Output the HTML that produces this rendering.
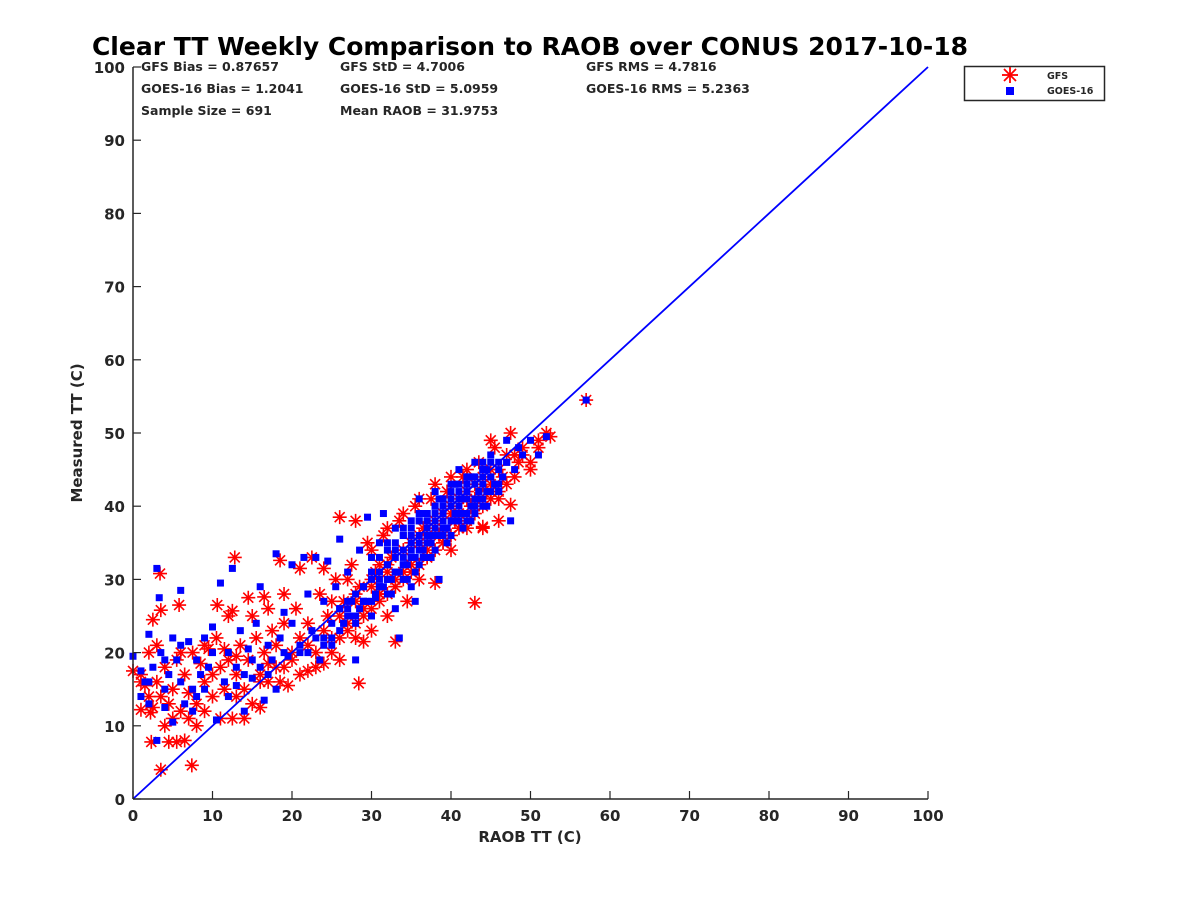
<!DOCTYPE html>
<html><head><meta charset="utf-8"><style>
body{margin:0;background:#fff;}
svg text{font-family:"DejaVu Sans","Liberation Sans",sans-serif;font-weight:bold;fill:#262626;}
</style></head><body>
<svg width="1200" height="900" viewBox="0 0 1200 900">
<text x="530" y="55" font-size="25" text-anchor="middle" style="fill:#000">Clear TT Weekly Comparison to RAOB over CONUS 2017-10-18</text>
<g id="stats">
<text x="141" y="71" font-size="12.5">GFS Bias = 0.87657</text>
<text x="340" y="71" font-size="12.5">GFS StD = 4.7006</text>
<text x="586" y="71" font-size="12.5">GFS RMS = 4.7816</text>
<text x="141" y="93" font-size="12.5">GOES-16 Bias = 1.2041</text>
<text x="340" y="93" font-size="12.5">GOES-16 StD = 5.0959</text>
<text x="586" y="93" font-size="12.5">GOES-16 RMS = 5.2363</text>
<text x="141" y="115" font-size="12.5">Sample Size = 691</text>
<text x="340" y="115" font-size="12.5">Mean RAOB = 31.9753</text>
</g>
<g id="plot"></g>
<g id="axes"></g>
<g>
<rect x="964.5" y="66.5" width="140" height="34" fill="#fff" stroke="#262626" stroke-width="1.5"/>
<g stroke="#f00" stroke-width="1.8">
<line x1="1002" y1="75" x2="1018" y2="75"/><line x1="1010" y1="67" x2="1010" y2="83"/><line x1="1004" y1="69" x2="1016" y2="81"/><line x1="1004" y1="81" x2="1016" y2="69"/></g>
<rect x="1006" y="87" width="8" height="8" fill="#00f"/>
<text x="1047" y="79" font-size="9.5">GFS</text>
<text x="1047" y="94" font-size="9.5">GOES-16</text>
</g>
</svg>
<script>
const xTicks=[0,10,20,30,40,50,60,70,80,90,100];
const yTicks=[0,10,20,30,40,50,60,70,80,90,100];
const gfsX=[3.4,3.5,2.5,5.8,10.6,12.8,12.5,14.5,16.5,18.5,21,26,28.4,3.5,7.4,2.3,4.5,5.5,6.5,43,57,47.5,44,1,0,2.2,
1,1.5,2,2.5,3,3.5,4,4.5,5,5.5,6,6.5,7,7.5,8,8.5,9,9.5,10,10.5,11,11.5,12,12.5,13,13.5,14,14.5,15,15.5,16,16.5,17,17.5,18,18.5,19,19.5,20,3,4,5,6,8,9,11,12,13,7,2,1,14,16,15,10,11.5,13,9,20.5,19,17,21,22,22,23,23.5,24,24.5,25,25.5,26,26.5,27,27.5,28,28.5,29,29.5,30,30.5,31,31.5,32,32.5,33,33,33.5,34,34.5,35,35.5,36,36.5,37,37.5,38,38.5,39,39.5,40,40.5,41,41.5,42,42.5,43,43.5,44,44.5,45,45.5,46,46.5,47,47.5,48,48.5,49,50,51,52,52.5,45,42,40,38,36,34,32,30,28,29,24,22.5,27,25,31,35,37,39,41,43,45,46,44,42,40,38,36,34,32,30,28,26,24,22,20,18,16,
27,29,31,33,35,37,39,41,43,45,47,28,30,32,34,36,38,40,42,44,46,48,29,31,33,35,37,39,41,43,45,26,28,30,32,34,36,38,40,42,44,46,49,50,51,25,23,21,19,17];
const gfsY=[30.8,25.8,24.5,26.5,26.5,33,25.7,27.5,27.6,32.6,31.5,38.5,15.8,4,4.6,7.8,7.8,7.8,8,26.8,54.5,40.2,37.2,12.2,17.5,11.8,
17,15.5,14,12.5,16,14,18,13,15,19,12,17,14.5,20,13,18.5,16,20.5,14,22,18,15,19,11,17,21,15,19,13,22,17,20,18.5,23,21,16,24,15.5,20,21,10,11,20,10,12,11,25,14,11,20,16,11,12.5,25,17,20.5,19.5,21,26,28,26,22,17.5,24,20,28,18.5,25,22,30,19,27,24,32,22,29,26,35,23,31,28,36,25,33,21.5,29,38,31,27,35,40,30,37,33,41,29.5,36,39,42,34,38,41,44,37,40,43,46,37,42,45,48,41,44,47,50,44,46,48,45,48,50,49.5,49,45,44,43,41,39,37,34,38,21.5,31.5,33,30,27,32,32,36,35,39,41,43,38,44,42,40,38,36,34,31,29,27,25,23,21,19,18,16,
23,25,27,29,31,33,35,37,39,41,43,28,30,32,34,35,37,39,41,43,45,47,26,28,30,32,34,36,38,40,42,22,24,26,28,30,32,34,36,38,40,42,47,46,49,20,18,17,18,16];
const goesX=[0,1,1.5,2,2.5,3,3.3,3.5,4,4.5,5,5.5,6,6.5,7,7.5,8,8.5,9,9.5,10,10.5,11,11.5,12,12.5,13,13.5,14,14.5,15,15.5,16,16.5,17,17.5,18,18.5,19,19.5,20,21,21.5,22,22.5,23,23.5,24,24.5,25,25.5,26,26.5,27,27.5,28,28.5,29,29.5,30,30.5,31,31.5,32,32.5,33,33.5,34,34.5,35,35.5,36,36.5,37,37.5,38,38.5,39,39.5,40,40.5,41,41.5,42,42.5,43,43.5,44,44.5,45,45.5,46,46.5,47,47.5,48,48.5,49,50,51,52,57,3,5,7.5,2,4,6,9,12,13,15,17,19,22,24,26,28,30,32,34,36,38,40,42,44,46,35,37,39,41,43,36,34,32,30,38,40,42,44,33,31,29,27,25,23,21,20,18,16,14,10,8,6,4,2,1,45,47,43,37,35,33,39,41,
31,33,35,37,39,41,43,45,34,36,38,40,42,44,32,34,36,38,40,42,44,46,33,35,37,39,41,43,35.5,37.5,39.5,41.5,43.5,36.5,38.5,40.5,42.5,44.5,
26,27,28,29,30,31,32,33,34,35,36,37,38,39,40,41,42,43,44,45,46,47,26.5,27.5,28.5,29.5,30.5,31.5,32.5,33.5,34.5,35.5,36.5,37.5,38.5,39.5,40.5,41.5,42.5,43.5,44.5,45.5,46.5,25,27,29,31,33,35,37,39,41,43,45,24,26,28,30,32,34,36,38,40,42,44,46,
30,32,34,36,38,40,42,31,33,35,37,39,41,29,31,33,35,37,39,41,43];
const goesY=[19.5,17.5,16,22.5,18,31.5,27.5,20,15,17,22,19,28.5,13,21.5,15,19,17,22,18,23.5,10.8,29.5,16,20,31.5,18,23,12,20.5,16.5,24,29,13.5,21,19,33.5,22,25.5,19.5,32,21,33,28,23,33,19,27,32.5,21,29,35.5,24,31,27,19,34,29,38.5,31,27.5,35,39,32,28,37,22,34,30,38,27,41,33,39,36,42,30,40,37,43,39,45,41,44,38,46,42,45,40,47,43,46,44,49,38,45,48,47,49,47,49.5,54.5,8,10.5,12,13,12.5,16,15,14,15.5,19,17,20,20,22,26,25,27,30,32,35,37,38,41,43,42,34,38,41,43,44,39,37,35,33,40,41,43,46,31,30,27,26,24,22,20,24,15,18,17,20,14,21,19,16,14,44,46,39,33,29,26,36,41,
33,35,37,39,41,42,44,46,36,38,40,42,44,45,30,32,34,36,38,39,41,43,34,36,38,40,40,41,31,33,35,37,42,39,41,43,44,45,
26,27,28,29,30,31,32,33,33,35,36,37,38,39,40,41,42,43,44,44,45,46,24,25,26,27,28,29,30,31,32,33,34,35,36,37,38,39,40,41,42,43,44,22,25,27,29,31,33,35,37,38,40,42,21,23,24,25,28,30,32,34,36,38,40,42,
33,34,36,38,39,41,43,29,31,33,36,38,39,27,29,31,33,35,37,38,40];
const NS='http://www.w3.org/2000/svg';
const X0=133,X1=928,Y0=799,Y1=67;
const sx=v=>X0+(v-xTicks[0])/(xTicks[xTicks.length-1]-xTicks[0])*(X1-X0);
const sy=v=>Y0-(v-yTicks[0])/(yTicks[yTicks.length-1]-yTicks[0])*(Y0-Y1);
function mk(t,a,p){const e=document.createElementNS(NS,t);for(const k in a)e.setAttribute(k,a[k]);p.appendChild(e);return e;}
const plot=document.getElementById('plot');
const gl=mk('g',{},plot);


const s=7;
for(let i=0;i<gfsX.length;i++){
  const cx=sx(gfsX[i]),cy=sy(gfsY[i]);
  const d=`M${cx-s} ${cy}H${cx+s}M${cx} ${cy-s}V${cy+s}M${cx-5} ${cy-5}L${cx+5} ${cy+5}M${cx-5} ${cy+5}L${cx+5} ${cy-5}`;
  const p=mk('path',{d:d,stroke:'#f00','stroke-width':1.6,fill:'none'},gl);
  
  
}
const gb=mk('g',{},plot);


for(let i=0;i<goesX.length;i++){
  const r=mk('rect',{x:sx(goesX[i])-3.5,y:sy(goesY[i])-3.5,width:7,height:7,fill:'#00f'},gb);
  
  
}
const ln=mk('line',{x1:sx(0),y1:sy(0),x2:sx(100),y2:sy(100),stroke:'#00f','stroke-width':1.8},plot);


const ax=document.getElementById('axes');
const xa=mk('line',{x1:X0,y1:Y0,x2:X1,y2:Y0,stroke:'#262626','stroke-width':1.5},ax);


const ya=mk('line',{x1:X0,y1:Y0,x2:X0,y2:Y1,stroke:'#262626','stroke-width':1.5},ax);


xTicks.forEach(v=>{
  const x=sx(v);
  mk('line',{x1:x,y1:Y0,x2:x,y2:Y0-8,stroke:'#262626','stroke-width':1.2},ax);
  const t=mk('text',{x:x,y:Y0+22,'font-size':15,'text-anchor':'middle'},ax);
  t.textContent=v;
  
  
});
yTicks.forEach(v=>{
  const y=sy(v);
  mk('line',{x1:X0,y1:y,x2:X0+8,y2:y,stroke:'#262626','stroke-width':1.2},ax);
  const t=mk('text',{x:X0-8,y:y+6,'font-size':15,'text-anchor':'end'},ax);
  t.textContent=v;
  
  
});
const xt=mk('text',{x:530,y:842,'font-size':15,'text-anchor':'middle'},ax);
xt.textContent='RAOB TT (C)';


const yt=mk('text',{x:0,y:0,'font-size':15,'text-anchor':'middle',transform:'translate(82,433) rotate(-90)'},ax);
yt.textContent='Measured TT (C)';


</script>
</body></html>
